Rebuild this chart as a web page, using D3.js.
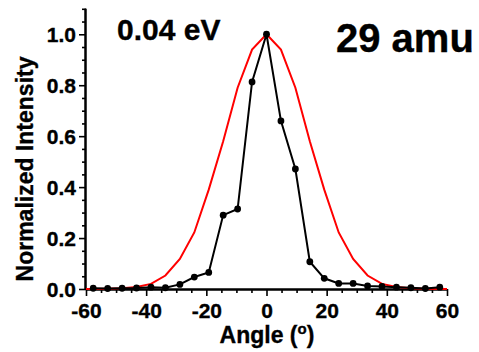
<!DOCTYPE html>
<html>
<head>
<meta charset="utf-8">
<script src="https://cdn.jsdelivr.net/npm/d3@7"></script>
<style>
  html, body { margin: 0; padding: 0; background: #fff; }
  svg { display: block; }
  text { font-family: "Liberation Sans", Arial, sans-serif; font-weight: bold; fill: #000; stroke: #000; stroke-width: 0.35px; }
</style>
</head>
<body>
<svg id="chart" width="479" height="352"></svg>
<script>
// ---- data ----
const angles = [-57.6, -52.8, -48, -43.2, -38.4, -33.6, -28.8, -24, -19.2, -14.4, -9.6, -4.8, 0,
                4.8, 9.6, 14.4, 19.2, 24, 28.8, 33.6, 38.4, 43.2, 48, 52.8, 57.6];
const measured = [0.003, 0.002, 0.003, 0.004, 0.007, 0.005, 0.018, 0.047, 0.065, 0.29, 0.314, 0.813, 1.0,
                  0.66, 0.471, 0.107, 0.042, 0.022, 0.022, 0.012, 0.01, 0.007, 0.005, 0.002, 0.007];
const fitAngles = [-60, -57.6, -52.8, -48, -43.2, -38.4, -33.6, -28.8, -24, -19.2, -14.4, -9.6, -4.8, 0,
                   4.8, 9.6, 14.4, 19.2, 24, 28.8, 33.6, 38.4, 43.2, 48, 52.8, 57.6, 60];
const fitValues = [0.0002, 0.0004, 0.0012, 0.003, 0.008, 0.02, 0.053, 0.118, 0.222, 0.39, 0.58, 0.79, 0.94, 1.0,
                   0.94, 0.79, 0.58, 0.39, 0.222, 0.118, 0.053, 0.02, 0.008, 0.003, 0.0012, 0.0004, 0.0002];
const xTickValues = [-60, -40, -20, 0, 20, 40, 60];
const xTickLabels = ["-60", "-40", "-20", "0", "20", "40", "60"];
const yTickValues = [0.0, 0.2, 0.4, 0.6, 0.8, 1.0];
const yTickLabels = ["0.0", "0.2", "0.4", "0.6", "0.8", "1.0"];
const energyLabel = "0.04 eV";
const massLabel = "29 amu";
const xTitle = "Angle (";
const yTitle = "Normalized Intensity";

// ---- layout ----
const svg = d3.select("#chart");
const x = d3.scaleLinear().domain([-60, 60]).range([86, 447]);
const y = d3.scaleLinear().domain([0, 1.1]).range([289, 8.8]);

// minor ticks
const xMinor = d3.range(-60, 60.001, 5).filter(v => !xTickValues.includes(Math.round(v)));
const yMinor = d3.range(0, 1.1001, 0.05).map(v => +v.toFixed(2)).filter(v => !yTickValues.some(t => Math.abs(t - v) < 1e-6));

const xAxis = svg.append("g").attr("transform", "translate(0,289)")
  .call(d3.axisBottom(x).tickValues(xTickValues).tickFormat((d, i) => xTickLabels[i]).tickSize(7).tickPadding(4));
const xAxisMinor = svg.append("g").attr("transform", "translate(0,289)")
  .call(d3.axisBottom(x).tickValues(xMinor).tickFormat("").tickSize(4));
const yAxis = svg.append("g").attr("transform", "translate(86,0)")
  .call(d3.axisLeft(y).tickValues(yTickValues).tickFormat((d, i) => yTickLabels[i]).tickSize(7).tickPadding(3));
const yAxisMinor = svg.append("g").attr("transform", "translate(86,0)")
  .call(d3.axisLeft(y).tickValues(yMinor).tickFormat("").tickSize(4));

[xAxis, xAxisMinor, yAxis, yAxisMinor].forEach(g => {
  g.attr("font-family", null).attr("font-size", null);
  g.selectAll("path.domain").attr("stroke", "#000").attr("stroke-width", 2);
  g.selectAll(".tick line").attr("stroke", "#000").attr("stroke-width", 1.6);
  g.selectAll(".tick text").style("font-size", "21px").style("font-family", "'Liberation Sans', Arial, sans-serif").style("font-weight", "bold").attr("fill", "#000");
});
[xAxis, xAxisMinor].forEach(g => g.select("path.domain").attr("d", `M${x(-60)},0.5H${x(60)}`));
[yAxis, yAxisMinor].forEach(g => g.select("path.domain").attr("d", `M-0.5,${y(0)}V${y(1.1)}`));
yAxis.selectAll(".tick text").attr("dy", "0.36em");
xAxis.selectAll(".tick text").attr("dy", "0.88em");

// ---- fit (red) ----
const line = d3.line().x(d => x(d[0])).y(d => y(d[1]));
svg.append("path")
  .datum(fitAngles.map((a, i) => [a, fitValues[i]]))
  .attr("d", line)
  .attr("fill", "none").attr("stroke", "#ff0000").attr("stroke-width", 2);

// ---- measured (black) ----
const pts = angles.map((a, i) => [a, measured[i]]);
svg.append("path").datum(pts).attr("d", line)
  .attr("fill", "none").attr("stroke", "#000").attr("stroke-width", 2);
svg.append("g").selectAll("circle").data(pts).join("circle")
  .attr("cx", d => x(d[0])).attr("cy", d => y(d[1])).attr("r", 3.4).attr("fill", "#000");

// ---- labels ----
svg.append("text").attr("x", 117).attr("y", 40).style("font-size", "30px").text(energyLabel);
svg.append("text").attr("x", 336).attr("y", 52).style("font-size", "40px").text(massLabel);

const xt = svg.append("text").attr("x", 267).attr("y", 343).attr("text-anchor", "middle").style("font-size", "23px");
xt.append("tspan").text(xTitle);
xt.append("tspan").attr("dy", "-9").style("font-size", "15px").text("o");
xt.append("tspan").attr("dy", "9").text(")");

svg.append("text").attr("transform", "translate(33,169) rotate(-90)").attr("text-anchor", "middle")
  .style("font-size", "23px").text(yTitle);
</script>
</body>
</html>
